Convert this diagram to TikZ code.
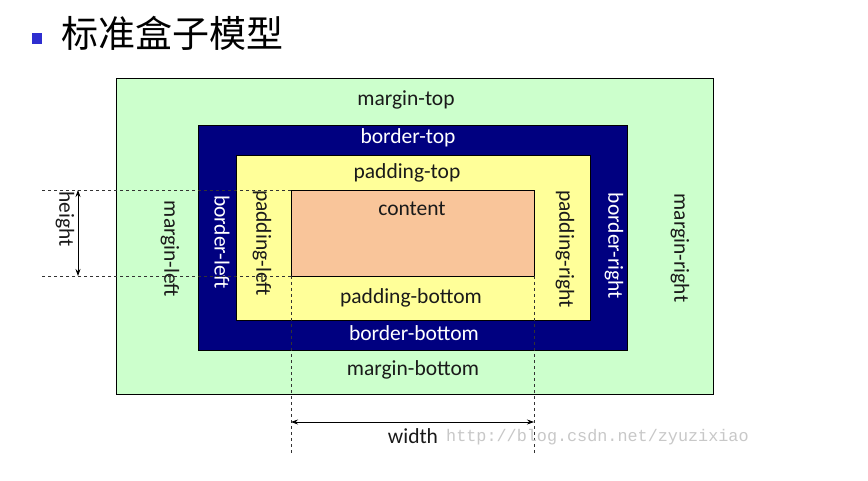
\documentclass[tikz,border=0pt]{standalone}
\usepackage{fontspec}
\setmainfont{Carlito}
\newfontfamily\cjkfont{Noto Sans CJK SC}
\newfontfamily\wmfont{Liberation Mono}
\usetikzlibrary{arrows.meta}
\definecolor{mgreen}{HTML}{CCFFCC}
\definecolor{bnavy}{HTML}{000080}
\definecolor{pyellow}{HTML}{FFFF99}
\definecolor{cpeach}{HTML}{F9C59A}
\definecolor{tblue}{HTML}{2E2ED0}
\definecolor{wmgray}{HTML}{C8C8C8}
\definecolor{labtext}{HTML}{1A1A1A}
\tikzset{
  boxarea/.style={draw=black, line width=0.8pt, inner sep=0pt, outer sep=0pt},
  lab/.style={font=\fontsize{21.5}{21.5}\selectfont, text=labtext, inner sep=0pt},
  wlab/.style={font=\fontsize{21.5}{21.5}\selectfont, text=white, inner sep=0pt},
  vert/.style={rotate=-90},
  guide/.style={dashed, dash pattern=on 3pt off 3pt, line width=0.7pt, black!80},
  dim/.style={{Stealth[length=7pt,width=5pt]}-{Stealth[length=7pt,width=5pt]}, line width=0.8pt}
}
\begin{document}
\begin{tikzpicture}[x=1pt,y=-1pt]
\useasboundingbox (0,0) rectangle (868,481);
\fill[white] (0,0) rectangle (868,481);
% title
\node[fill=tblue, minimum width=10pt, minimum height=11pt, inner sep=0pt] (bullet) at (37,38.5) {};
\node[anchor=west, inner sep=0pt, font=\cjkfont\fontsize{37}{37}\selectfont] (title) at (61,33) {标准盒子模型};
% boxes
\node[boxarea, fill=mgreen, minimum width=597pt, minimum height=316pt] (margin) at (414.5,236) {};
\node[boxarea, fill=bnavy, minimum width=429pt, minimum height=225pt] (border) at (412.5,237.5) {};
\node[boxarea, fill=pyellow, minimum width=354pt, minimum height=165pt] (padding) at (413,237.5) {};
\node[boxarea, fill=cpeach, minimum width=243pt, minimum height=86pt] (content) at (412.5,233) {};
% labels
\node[lab] (mt) at (406,100) {margin-top};
\node[wlab] (bt) at (408,138) {border-top};
\node[lab] (pt) at (407,173) {padding-top};
\node[lab] (ct) at (412,209) {content};
\node[lab] (pb) at (411,298) {padding-bottom};
\node[wlab] (bb) at (414,333) {border-bottom};
\node[lab] (mb) at (413,370) {margin-bottom};
\node[lab, vert] (ml) at (170,249) {margin-left};
\node[wlab, vert] (bl) at (222,242) {border-left};
\node[lab, vert] (pl) at (262,243) {padding-left};
\node[lab, vert] (pr) at (565,249) {padding-right};
\node[wlab, vert] (br) at (614,246) {border-right};
\node[lab, vert] (mr) at (680,248) {margin-right};
% guides
\coordinate (gtl) at (40,190);
\coordinate (gbl) at (40,276);
\coordinate (gl) at (291,455);
\coordinate (gr) at (534,455);
\draw[guide] (content.north west) -- (gtl);
\draw[guide] (content.south west) -- (gbl);
\draw[guide] (content.south west) -- (gl);
\draw[guide] (content.south east) -- (gr);
% dimensions
\coordinate (h1) at (78,190);
\coordinate (h2) at (78,276);
\draw[dim] (h1) -- (h2);
\node[lab, vert] (hl) at (65,219) {height};
\coordinate (w1) at (291,422);
\coordinate (w2) at (534,422);
\draw[dim] (w1) -- (w2);
\node[lab] (wl) at (413,436) {width};
\node[anchor=west, inner sep=0pt, text=wmgray, font=\wmfont\fontsize{16.8}{16.8}\selectfont] (wm) at (446,437) {http://blog.csdn.net/zyuzixiao};
\end{tikzpicture}
\end{document}
